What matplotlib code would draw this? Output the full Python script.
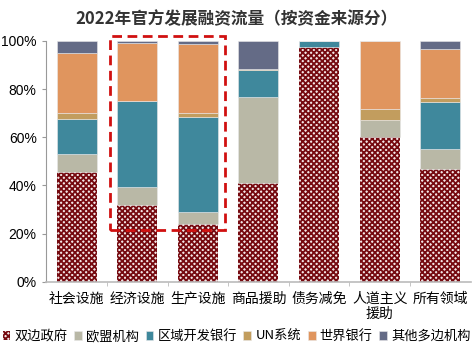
import matplotlib.pyplot as plt
import matplotlib.patches as mpatches
import numpy as np

plt.rcParams['font.family'] = ['Noto Sans CJK SC', 'DejaVu Sans']
plt.rcParams['hatch.linewidth'] = 1.3

# 数据 (%)
categories = ['社会设施', '经济设施', '生产设施', '商品援助', '债务减免', '人道主义\n援助', '所有领域']
series = ['双边政府', '欧盟机构', '区域开发银行', 'UN系统', '世界银行', '其他多边机构']
bilateral = [45.7, 31.8, 24.0, 41.2, 97.4, 60.0, 46.8]
eu = [7.2, 7.5, 4.8, 35.4, 0.0, 7.3, 8.3]
regional = [14.7, 35.6, 39.5, 11.2, 2.6, 0.0, 19.5]
un = [2.3, 0.3, 1.9, 0.4, 0.0, 4.5, 1.5]
world_bank = [25.1, 23.9, 28.3, 0.3, 0.0, 28.2, 20.7]
other = [5.0, 0.9, 1.5, 11.5, 0.0, 0.0, 3.2]

values = [bilateral, eu, regional, un, world_bank, other]
colors = ['white', '#B9B8A6', '#3F889C', '#C29D5E', '#E0955E', '#646B86']

fig = plt.figure(figsize=(4.73, 3.55), dpi=100)
ax = fig.add_axes([0.098, 0.206, 0.897, 0.679])

x = np.arange(len(categories))
bottom = np.zeros(len(categories))
handles = []
for i, (vals, col) in enumerate(zip(values, colors)):
    vals = np.array(vals)
    if i == 0:
        # 双边政府：暗红格纹
        b = ax.bar(x, vals, 0.66, bottom=bottom, color='#F3E6E6', edgecolor='#760A10',
                   hatch='xxxxxx', linewidth=0, label=series[i])
    else:
        b = ax.bar(x, vals, 0.66, bottom=bottom, color=col, edgecolor='#E8E8E8',
                   linewidth=0.4, label=series[i])
    bottom += vals
    handles.append(b)

ax.set_xlim(-0.5, len(categories) - 0.5)
ax.set_ylim(0, 100)
ax.set_yticks(range(0, 101, 20))
ax.set_yticklabels([f'{v}%' for v in range(0, 101, 20)], family='Liberation Sans', fontsize=10)
ax.set_xticks(x)
ax.set_xticklabels(categories, fontsize=10, linespacing=1.1)
ax.set_xticks(np.arange(0.5, len(categories) - 0.5, 1), minor=True)
ax.tick_params(axis='x', which='major', length=0, pad=7)
ax.tick_params(axis='x', which='minor', length=3, color='#BBBBBB')
ax.tick_params(axis='y', length=3, color='#999999', pad=4)

for s in ['top', 'right']:
    ax.spines[s].set_visible(False)
ax.spines['left'].set_color('#999999')
ax.spines['bottom'].set_color('#BBBBBB')
ax.spines['bottom'].set_linewidth(1.2)

# 红色虚线框
rect = mpatches.Rectangle((0.545, 21.6), 1.91, 80.6, fill=False, edgecolor='#D01010',
                          linestyle=(0, (3.5, 2)), linewidth=2, clip_on=False)
ax.add_patch(rect)

fig.text(0.5, 0.945, '2022年官方发展融资流量（按资金来源分）', ha='center', va='center',
         fontsize=12, fontweight='bold', color='#333333')

fig.legend(handles=handles, loc='center', bbox_to_anchor=(0.5, 0.052), ncol=6,
           frameon=False, fontsize=9.5, handlelength=0.6, handleheight=0.6,
           handletextpad=0.3, columnspacing=0.5, borderaxespad=0)

fig.savefig('out.png', dpi=100)
